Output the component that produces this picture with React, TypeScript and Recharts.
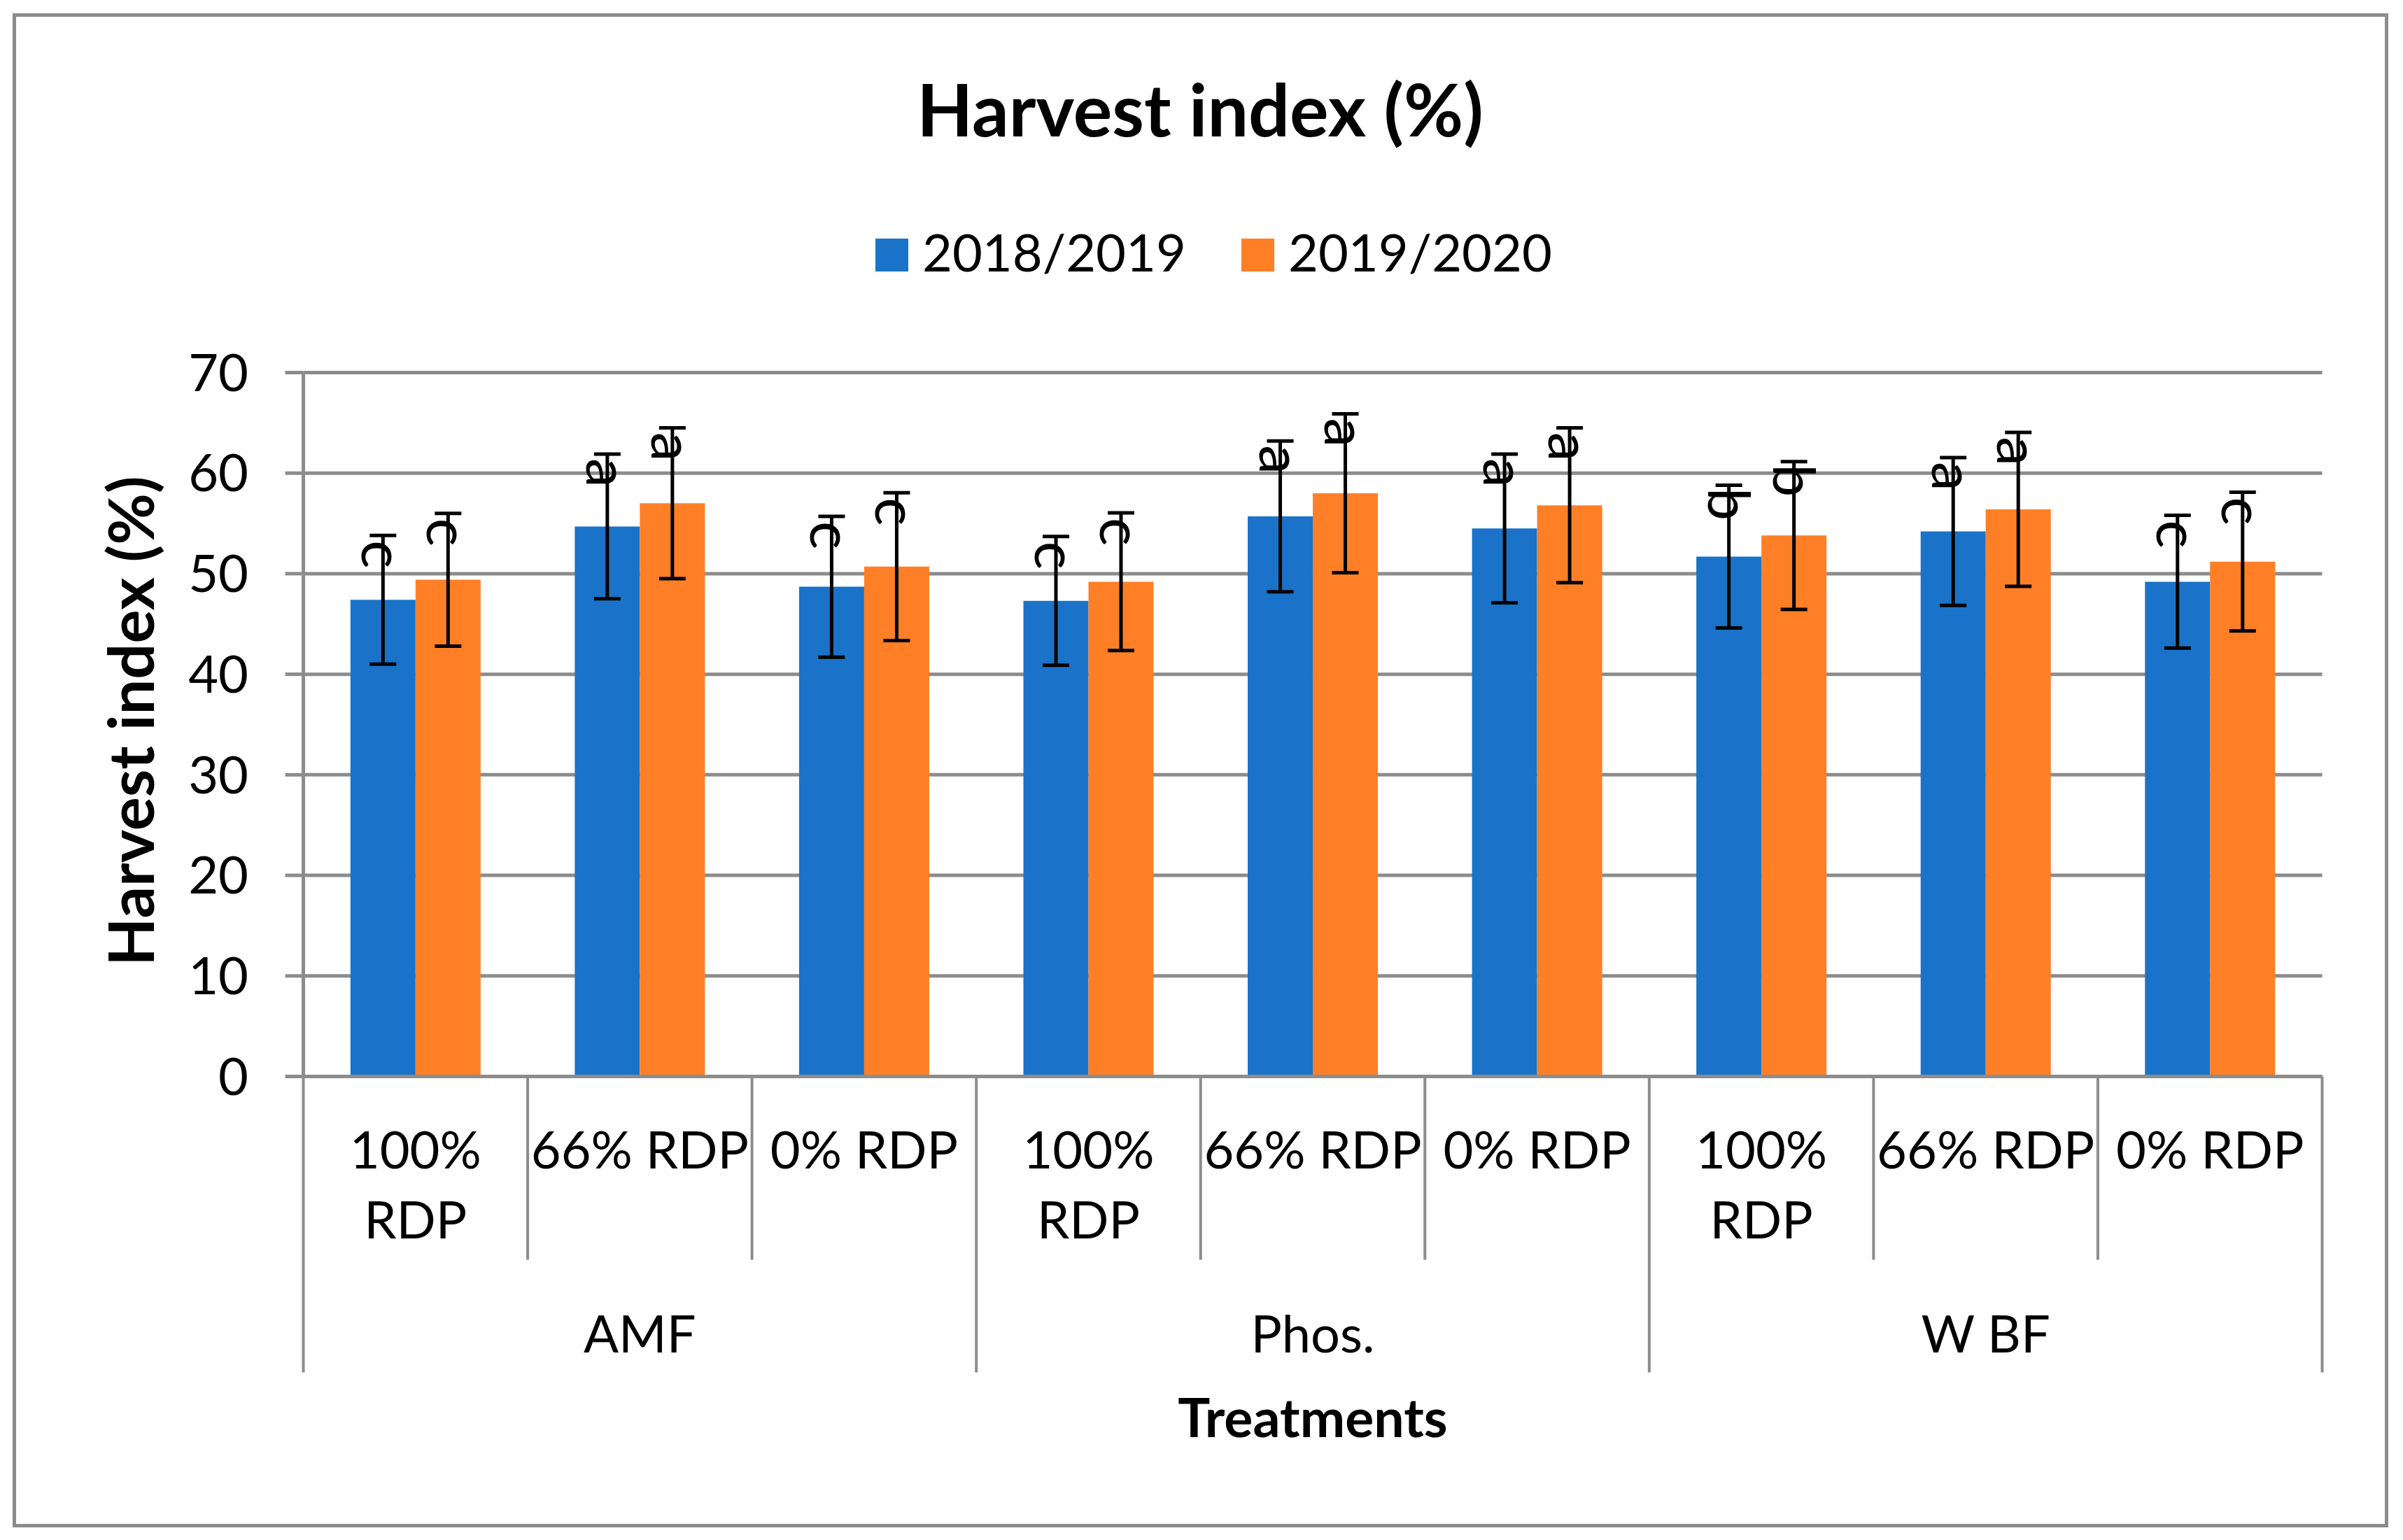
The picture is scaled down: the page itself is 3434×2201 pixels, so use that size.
import { Bar, BarChart, CartesianGrid, ErrorBar, LabelList, Legend, XAxis, YAxis } from "recharts";

const categories = [
  "100% RDP", "66% RDP", "0% RDP",
  "100% RDP", "66% RDP", "0% RDP",
  "100% RDP", "66% RDP", "0% RDP",
];
const groups = ["AMF", "Phos.", "W BF"];

const hi1819 = [47.4, 54.7, 48.7, 47.3, 55.7, 54.5, 51.7, 54.2, 49.2];
const err1819 = [6.4, 7.2, 7.0, 6.4, 7.5, 7.4, 7.1, 7.35, 6.6];
const letters1819 = ["c", "a", "c", "c", "a", "a", "b", "a", "c"];

const hi1920 = [49.4, 57.0, 50.7, 49.2, 58.0, 56.8, 53.8, 56.4, 51.2];
const err1920 = [6.6, 7.5, 7.35, 6.85, 7.9, 7.7, 7.35, 7.65, 6.9];
const letters1920 = ["c", "a", "c", "c", "a", "a", "b", "a", "c"];

const yTicks = [0, 10, 20, 30, 40, 50, 60, 70];

const BLUE = "#1a73c8";
const ORANGE = "#ff7f27";
const GRID = "#8c8c8c";
const FONT = "Lato";

const W = 3434;
const H = 2201;
const M = { top: 532.5, right: 115.5, left: 0, bottom: 0 };
const Y_W = 433.5;
const X_H = H - M.top - 1006;

const data = categories.map((label, i) => ({
  label,
  y1819: hi1819[i],
  e1819: err1819[i],
  y1920: hi1920[i],
  e1920: err1920[i],
}));

function CategoryTick(props: any) {
  const { x, y, payload, index } = props;
  const half = payload?.offset || (W - M.right - Y_W) / categories.length / 2;
  const label = String(payload.value);
  const lines = label.length > 7 ? label.split(" ") : [label];
  const last = index === categories.length - 1;
  return (
    <g>
      <line x1={x - half} x2={x - half} y1={y} y2={y + (index % 3 === 0 ? 423 : 262)} stroke={GRID} strokeWidth={4} />
      {last && <line x1={x + half} x2={x + half} y1={y} y2={y + 423} stroke={GRID} strokeWidth={4} />}
      {lines.map((t, k) => (
        <text key={k} x={x} y={y + 131.5 + k * 100} textAnchor="middle" fontFamily={FONT} fontSize={74} fill="#000">
          {t}
        </text>
      ))}
      {index % 3 === 1 && (
        <text x={x} y={y + 394.5} textAnchor="middle" fontFamily={FONT} fontSize={74} fill="#000">
          {groups[Math.floor(index / 3)]}
        </text>
      )}
    </g>
  );
}

function letterLabel(values: number[], errs: number[], letters: string[]) {
  return (props: any) => {
    const { x, y, width, height, index } = props;
    const v = values[index];
    const top = y - (errs[index] * height) / v;
    const cx = x + width / 2 - 30;
    const cy = top + 27;
    return (
      <text
        x={cx}
        y={cy}
        transform={`rotate(90 ${cx} ${cy})`}
        textAnchor="middle"
        fontFamily={FONT}
        fontSize={84}
        fill="#000"
      >
        {letters[index]}
      </text>
    );
  };
}

function LegendContent(props: any) {
  const items = props.payload || [];
  return (
    <svg width={W} height={140} style={{ overflow: "visible" }}>
      {items.map((it: any, i: number) => (
        <g key={it.value}>
          <rect x={1251 + i * 523} y={41} width={47} height={47} fill={it.color} />
          <text x={1318 + i * 523} y={88} fontFamily={FONT} fontSize={74} fill="#000">
            {it.value}
          </text>
        </g>
      ))}
    </svg>
  );
}

export default function App() {
  return (
    <div style={{ position: "relative", width: W, height: H, background: "#fff" }}>
      <style>{`body{margin:0}`}</style>
      <svg width={W} height={H} style={{ position: "absolute", left: 0, top: 0 }}>
        <rect x={20.5} y={21.5} width={3390} height={2159} fill="none" stroke={GRID} strokeWidth={5} />
        <text x={1715} y={195} textAnchor="middle" fontFamily={FONT} fontWeight="bold" fontSize={104} fill="#000">
          Harvest index (%)
        </text>
      </svg>
      <div style={{ position: "absolute", left: 0, top: 0 }}>
        <BarChart width={W} height={H} data={data} margin={M} barCategoryGap="21%" barGap={0}>
          <CartesianGrid horizontal vertical={false} stroke={GRID} strokeWidth={5} />
          <XAxis
            dataKey="label"
            height={X_H}
            tickLine={false}
            tickSize={0}
            tickMargin={0}
            interval={0}
            axisLine={{ stroke: GRID, strokeWidth: 5 }}
            tick={<CategoryTick />}
            label={{
              content: (p: any) => {
                const vb = p.viewBox || {};
                return (
                  <text
                    x={vb.x + vb.width / 2}
                    y={vb.y + 515.5}
                    textAnchor="middle"
                    fontFamily={FONT}
                    fontWeight="bold"
                    fontSize={77}
                    fill="#000"
                  >
                    Treatments
                  </text>
                );
              },
            }}
          />
          <YAxis
            width={Y_W}
            domain={[0, 70]}
            ticks={yTicks}
            tickSize={26}
            tickMargin={52.5}
            tickLine={{ stroke: GRID, strokeWidth: 5 }}
            axisLine={{ stroke: GRID, strokeWidth: 5 }}
            tick={{ fontFamily: FONT, fontSize: 74, fill: "#000" }}
            label={{
              content: (p: any) => {
                const vb = p.viewBox || {};
                const cx = 220;
                const cy = vb.y + vb.height / 2 - 5;
                return (
                  <text
                    x={cx}
                    y={cy}
                    transform={`rotate(-90 ${cx} ${cy})`}
                    textAnchor="middle"
                    fontFamily={FONT}
                    fontWeight="bold"
                    fontSize={90}
                    fill="#000"
                  >
                    Harvest index (%)
                  </text>
                );
              },
            }}
          />
          <Legend
            verticalAlign="middle"
            layout="horizontal"
            content={<LegendContent />}
            wrapperStyle={{ position: "absolute", top: 300, left: 0, width: W, height: 140 }}
          />
          <Bar dataKey="y1819" name="2018/2019" fill={BLUE} isAnimationActive={false}>
            <ErrorBar dataKey="e1819" width={19} stroke="#000" strokeWidth={5} isAnimationActive={false} />
            <LabelList dataKey="y1819" content={letterLabel(hi1819, err1819, letters1819)} />
          </Bar>
          <Bar dataKey="y1920" name="2019/2020" fill={ORANGE} isAnimationActive={false}>
            <ErrorBar dataKey="e1920" width={19} stroke="#000" strokeWidth={5} isAnimationActive={false} />
            <LabelList dataKey="y1920" content={letterLabel(hi1920, err1920, letters1920)} />
          </Bar>
        </BarChart>
      </div>
    </div>
  );
}
